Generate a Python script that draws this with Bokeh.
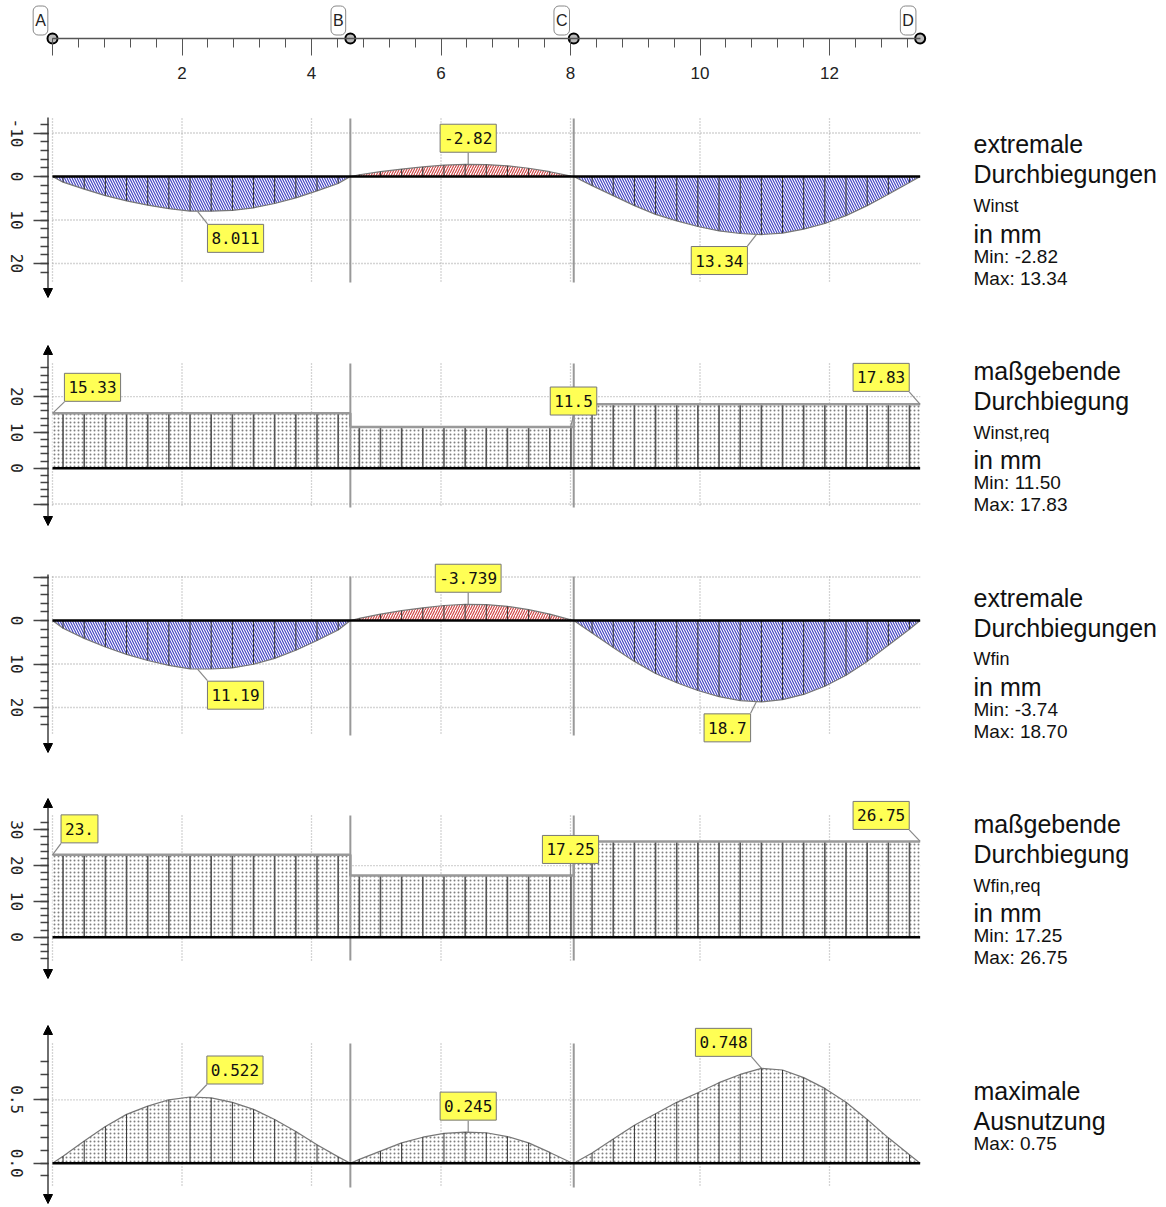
import math
from bokeh.plotting import figure
from bokeh.models import Range1d, LinearAxis, FixedTicker, Label, Arrow, NormalHead
from bokeh.layouts import column
from bokeh.embed import file_html
from bokeh.resources import INLINE

# ---------------- data ----------------
SUPPORT_NAMES = ["A", "B", "C", "D"]
SUPPORT_X = [0.0, 4.6, 8.05, 13.4]
STATION_STEP = 0.3268
STATIONS = [round(STATION_STEP * (k + 0.5), 3) for k in range(41)]

W_INST = [1.3, 2.9, 4.4, 5.6, 6.6, 7.4, 7.95, 7.98, 7.8, 7.2, 6.2, 4.9, 3.3, 1.6,
          -0.4, -1.1, -1.7, -2.2, -2.6, -2.8, -2.75, -2.45, -1.9, -1.1, -0.1,
          2.1, 4.4, 6.7, 8.7, 10.2, 11.5, 12.5, 13.1, 13.34, 13.0, 12.1, 10.8, 9.0, 6.7, 4.1, 1.4]
W_FIN = [1.8, 4.1, 6.1, 7.8, 9.2, 10.3, 11.1, 11.15, 10.9, 10.05, 8.7, 6.85, 4.6, 2.2,
         -0.5, -1.45, -2.25, -2.9, -3.45, -3.72, -3.65, -3.25, -2.5, -1.45, -0.15,
         2.9, 6.2, 9.4, 12.2, 14.3, 16.1, 17.5, 18.4, 18.7, 18.2, 17.0, 15.1, 12.6, 9.4, 5.7, 2.0]
ETA = [0.055, 0.175, 0.29, 0.385, 0.45, 0.50, 0.522, 0.515, 0.48, 0.425, 0.345, 0.25, 0.145, 0.05,
       0.03, 0.095, 0.16, 0.205, 0.235, 0.245, 0.24, 0.21, 0.16, 0.085, 0.005,
       0.08, 0.19, 0.30, 0.39, 0.48, 0.555, 0.635, 0.70, 0.748, 0.735, 0.675, 0.59, 0.48, 0.345, 0.20, 0.066]
W_INST_REQ = [15.33, 11.5, 17.83]
W_FIN_REQ = [23.0, 17.25, 26.75]

RULER_TICKS = [0, 2, 4, 6, 8, 10, 12]
RULER_MINOR = [round(0.4 * k, 1) for k in range(0, 34)]
GRID_X = [0, 2, 4, 6, 8, 10, 12]

P1_LABELS = [(2.24, 8.011, "8.011"), (6.42, -2.82, "-2.82"), (10.87, 13.34, "13.34")]
P2_LABELS = [(0.0, 15.33, "15.33"), (8.0, 11.5, "11.5"), (13.4, 17.83, "17.83")]
P3_LABELS = [(2.24, 11.19, "11.19"), (6.42, -3.739, "-3.739"), (10.87, 18.7, "18.7")]
P4_LABELS = [(0.0, 23.0, "23."), (8.0, 17.25, "17.25"), (13.4, 26.75, "26.75")]
P5_LABELS = [(2.2, 0.522, "0.522"), (6.42, 0.245, "0.245"), (10.95, 0.748, "0.748")]

P1_TEXT = ["extremale", "Durchbiegungen", "Winst", "in mm", "Min: -2.82", "Max: 13.34"]
P2_TEXT = ["maßgebende", "Durchbiegung", "Winst,req", "in mm", "Min: 11.50", "Max: 17.83"]
P3_TEXT = ["extremale", "Durchbiegungen", "Wfin", "in mm", "Min: -3.74", "Max: 18.70"]
P4_TEXT = ["maßgebende", "Durchbiegung", "Wfin,req", "in mm", "Min: 17.25", "Max: 26.75"]
P5_TEXT = ["maximale", "Ausnutzung", "Max: 0.75"]

# ---------------- layout / style ----------------
FIG_W = 1160
X0_PAGE = 52
XS = 64.75
X_START = -X0_PAGE / XS
X_END = (FIG_W - X0_PAGE) / XS
AXIS_X = (47.5 - X0_PAGE) / XS
TEXT_X = (973 - X0_PAGE) / XS
SIZES = {"big": "25px", "sym": "18px", "small": "19px"}
FONT = "Liberation Sans"
MONO = "DejaVu Sans Mono"
MONO_ADV = 9.63  # px per char of the 16px mono font


def base_fig(height, yr):
    p = figure(width=FIG_W, height=height, x_range=Range1d(X_START, X_END), y_range=yr,
               x_axis_type=None, y_axis_type=None, toolbar_location=None,
               output_backend="svg", min_border=0, outline_line_color=None)
    p.grid.visible = False
    return p


def station_span(x):
    for i in range(3):
        if SUPPORT_X[i] < x < SUPPORT_X[i + 1]:
            return i
    return 2


def panel(spec):
    top, bottom, zero, s, inv = spec["geom"]
    if inv:
        yr = Range1d((bottom - zero) / s, (top - zero) / s)
    else:
        yr = Range1d((zero - bottom) / s, (zero - top) / s)
    p = base_fig(bottom - top, yr)

    def v(py):
        return (py - zero) / s if inv else (zero - py) / s

    def dv(dy):
        return dy / s if inv else -dy / s

    g0, g1 = v(spec["grid"][0]), v(spec["grid"][1])
    # grid lines
    p.segment(x0=GRID_X, x1=GRID_X, y0=[g0] * len(GRID_X), y1=[g1] * len(GRID_X),
              line_color="#aaaaaa", line_dash="1 2", line_width=1.3)
    hg = spec["hgrid"]
    p.segment(x0=[0] * len(hg), x1=[SUPPORT_X[-1]] * len(hg), y0=hg, y1=hg,
              line_color="#aaaaaa", line_dash="1 2", line_width=1.3)

    kind = spec["kind"]
    if kind == "step":
        req = spec["values"]
        vals = [req[station_span(x)] for x in STATIONS]
        ox, oy = [], []
        for i in range(3):
            a, b = SUPPORT_X[i], SUPPORT_X[i + 1]
            p.varea(x=[a, b], y1=[0, 0], y2=[req[i], req[i]], fill_color="white",
                    hatch_pattern=".", hatch_color="#808080", hatch_scale=4, hatch_weight=1)
            ox += [a, b]
            oy += [req[i], req[i]]
        p.segment(x0=STATIONS, x1=STATIONS, y0=[0] * 41, y1=vals, line_color="#555555", line_width=1.6)
        p.line(ox, oy, line_color="#999999", line_width=2.5)
    else:
        vals = spec["values"]
        for i in range(3):
            a, b = SUPPORT_X[i], SUPPORT_X[i + 1]
            idx = [k for k, x in enumerate(STATIONS) if station_span(x) == i]
            xs = [a] + [STATIONS[k] for k in idx] + [b]
            ys = [0] + [vals[k] for k in idx] + [0]
            if kind == "defl":
                if max(ys) > 0:
                    hp, hc = "\\", "#4545c4"
                else:
                    hp, hc = "/", "#d04848"
                p.varea(x=xs, y1=[0] * len(xs), y2=ys, fill_color="white",
                        hatch_pattern=hp, hatch_color=hc, hatch_scale=5, hatch_weight=1.2)
            else:
                p.varea(x=xs, y1=[0] * len(xs), y2=ys, fill_color="white",
                        hatch_pattern=".", hatch_color="#808080", hatch_scale=4, hatch_weight=1)
            p.line(xs, ys, line_color="#777777", line_width=1.2)
        p.segment(x0=STATIONS, x1=STATIONS, y0=[0] * 41, y1=vals, line_color="#333333", line_width=1)

    # supports B, C
    mids = SUPPORT_X[1:3]
    p.segment(x0=mids, x1=mids, y0=[g0, g0], y1=[g1, g1], line_color="#999999", line_width=2)
    # baseline
    p.line([SUPPORT_X[0], SUPPORT_X[-1]], [0, 0], line_color="black", line_width=2.5)

    # y axis: ticks
    majors = spec["majors"]
    ax = LinearAxis(fixed_location=AXIS_X,
                    ticker=FixedTicker(ticks=majors, minor_ticks=spec["minors"]),
                    major_tick_out=15, major_tick_in=0, minor_tick_out=8, minor_tick_in=0,
                    axis_line_color=None, major_tick_line_color="#444444", minor_tick_line_color="#444444",
                    major_tick_line_width=1.3, minor_tick_line_width=1.3,
                    major_label_overrides={t: "" for t in majors})
    p.add_layout(ax, "left")
    # y axis: labels (rotated, centred on their ticks)
    lab_ticks, lab_over = [], {}
    for t in majors:
        txt = spec["overrides"].get(t, str(t))
        if not txt:
            continue
        ts = t + dv(len(txt) * MONO_ADV / 2)
        lab_ticks.append(ts)
        lab_over[ts] = txt
    lax = LinearAxis(fixed_location=AXIS_X, ticker=FixedTicker(ticks=lab_ticks, minor_ticks=[]),
                     major_label_orientation=-math.pi / 2,
                     major_tick_out=15, major_tick_in=0, minor_tick_out=0, minor_tick_in=0,
                     axis_line_color=None, major_tick_line_color=None, minor_tick_line_color=None,
                     major_label_text_font=MONO, major_label_text_font_size="16px",
                     major_label_text_color="#222222",
                     major_label_standoff=16, major_label_overrides=lab_over)
    p.add_layout(lax, "left")

    a0, a1 = spec["arrow"]
    p.add_layout(Arrow(x_start=AXIS_X, y_start=v(a0), x_end=AXIS_X, y_end=v(a1),
                       start=NormalHead(size=9, fill_color="black", line_color="black") if spec["both"] else None,
                       end=NormalHead(size=9, fill_color="black", line_color="black"),
                       line_color="#333333", line_width=1.4))

    # value labels
    for (lx, lv, txt), (dx, dy) in zip(spec["labels"], spec["offsets"]):
        w = len(txt) * MONO_ADV + 8
        h = 29
        cx = dx - (math.copysign(w / 2, dx) if abs(dx) > 5 else 0)
        cy = dy - math.copysign(h / 2, dy)
        p.line([lx, lx + cx / XS], [lv, lv + dv(cy)], line_color="#888888", line_width=1.2)
        p.add_layout(Label(x=lx + dx / XS, y=lv + dv(dy), text=txt, text_align="center",
                           text_baseline="middle", text_font=MONO, text_font_size="16px",
                           text_color="#111111", background_fill_color="#ffff55",
                           border_line_color="#777777", padding=(4, 8)))

    # right texts
    for txt, py, sz in zip(spec["text"], spec["text_y"], spec["text_size"]):
        p.add_layout(Label(x=TEXT_X, y=v(py), text=txt, text_align="left", text_baseline="middle",
                           text_font=FONT, text_font_size=SIZES[sz], text_color="#111111"))
    return p


# ---------------- ruler ----------------
ruler = base_fig(98, Range1d(-60, 38))
rax = LinearAxis(fixed_location=0, ticker=FixedTicker(ticks=RULER_TICKS, minor_ticks=RULER_MINOR),
                 bounds=(SUPPORT_X[0], SUPPORT_X[-1]), major_tick_out=17, major_tick_in=0,
                 minor_tick_out=9, minor_tick_in=0, major_label_overrides={0: ""},
                 major_label_text_font=FONT, major_label_text_font_size="17px",
                 major_label_text_color="#222222", major_label_standoff=11,
                 axis_line_color="#555555", major_tick_line_color="#555555",
                 minor_tick_line_color="#555555", axis_line_width=1.3)
ruler.add_layout(rax, "below")
ruler.scatter(SUPPORT_X, [0] * 4, size=10, fill_color="#bbbbbb", line_color="black", line_width=2)
for name, sx in zip(SUPPORT_NAMES, SUPPORT_X):
    ruler.add_layout(Label(x=sx - 12 / XS, y=18, text=name, text_align="center", text_baseline="middle",
                           text_font=FONT, text_font_size="16px", text_color="#222222",
                           background_fill_color="white", border_line_color="#888888",
                           border_radius=5, padding=(2, 6)))

BIG_TEXT_SIZES = ["big", "big", "sym", "big", "small", "small"]
specs = [
    dict(geom=(98, 320, 176, 4.35, True), kind="defl", values=W_INST,
         majors=[-10, 0, 10, 20], minors=list(range(-12, 24, 2)), overrides={},
         arrow=(117, 297), both=False, grid=(118, 282), hgrid=[-10, 10, 20],
         labels=P1_LABELS, offsets=[(38, 27), (0, -26), (-37, 26)],
         text=P1_TEXT, text_y=[143, 173, 205, 233, 256, 278], text_size=BIG_TEXT_SIZES),
    dict(geom=(320, 545, 467.7, 3.58, False), kind="step", values=W_INST_REQ,
         majors=[-10, 0, 10, 20], minors=list(range(-10, 30, 2)), overrides={-10: ""},
         arrow=(525, 345), both=True, grid=(363, 507), hgrid=[-10, 10, 20],
         labels=P2_LABELS, offsets=[(40, -26), (3, -26), (-39, -27)],
         text=P2_TEXT, text_y=[370, 400, 432, 459, 482, 504], text_size=BIG_TEXT_SIZES),
    dict(geom=(545, 770, 620, 4.35, True), kind="defl", values=W_FIN,
         majors=[-10, 0, 10, 20], minors=list(range(-10, 26, 2)), overrides={-10: ""},
         arrow=(574, 752), both=False, grid=(576, 735), hgrid=[-10, 10, 20],
         labels=P3_LABELS, offsets=[(38, 26), (0, -26), (-29, 26)],
         text=P3_TEXT, text_y=[597, 627, 658, 686, 709, 731], text_size=BIG_TEXT_SIZES),
    dict(geom=(770, 995, 936.7, 3.58, False), kind="step", values=W_FIN_REQ,
         majors=[0, 10, 20, 30], minors=list(range(-6, 34, 2)), overrides={},
         arrow=(978, 798), both=True, grid=(815, 960), hgrid=[10, 20],
         labels=P4_LABELS, offsets=[(27, -26), (0, -26), (-39, -26)],
         text=P4_TEXT, text_y=[823, 853, 885, 912, 935, 957], text_size=BIG_TEXT_SIZES),
    dict(geom=(995, 1205, 1162.7, 126.8, False), kind="eta", values=ETA,
         majors=[0, 0.5], minors=[round(0.1 * k, 1) for k in range(-1, 9)],
         overrides={0: "0.0", 0.5: "0.5"},
         arrow=(1203, 1025), both=True, grid=(1043, 1187), hgrid=[0.5],
         labels=P5_LABELS, offsets=[(40, -27), (0, -26), (-38, -26)],
         text=P5_TEXT, text_y=[1090, 1120, 1143], text_size=["big", "big", "small"]),
]

figs = [ruler] + [panel(sp) for sp in specs]
layout = column(*figs, spacing=0)
open("out.html", "w").write(file_html(layout, INLINE))
